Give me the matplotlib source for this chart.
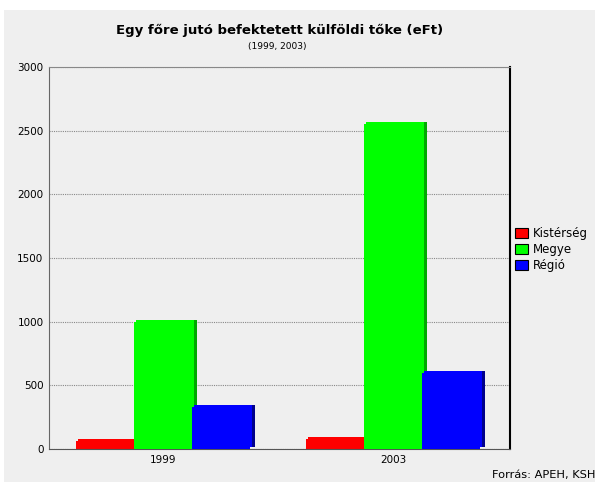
import matplotlib.pyplot as plt
import matplotlib.transforms as mtransforms
from matplotlib.patches import Patch, Rectangle
import numpy as np

# adatok
years = ['1999', '2003']
series = ['Kistérség', 'Megye', 'Régió']
kisterseg = [60, 80]
megye = [1000, 2550]
regio = [330, 600]

colors = ['#ff0000', '#00ff00', '#0000ff']
side_colors = ['#b00000', '#00a800', '#00008c']

fig = plt.figure(figsize=(5.99, 4.86), dpi=100)
fig.patch.set_facecolor('white')
# szürke háttér panel
fig.patches.append(Rectangle((4 / 599, 4 / 486), 591 / 599, 472 / 486,
                             transform=fig.transFigure, facecolor='#efefef',
                             edgecolor='none', zorder=-10))

ax = fig.add_axes([49 / 599, 37 / 486, 461 / 599, 382 / 486])
ax.set_facecolor('#efefef')

x = np.arange(len(years))
w = 0.253
side = mtransforms.offset_copy(ax.transData, fig=fig, x=5, y=2, units='dots')
top = mtransforms.offset_copy(ax.transData, fig=fig, x=2, y=2, units='dots')
for i, vals in enumerate([kisterseg, megye, regio]):
    pos = x + (i - 1) * w
    z = 2 + i
    # 3D hatás: sötét oldal + felső perem
    ax.bar(pos, vals, width=w, color=side_colors[i], transform=side, zorder=z)
    ax.bar(pos, vals, width=w, color=colors[i], transform=top, zorder=z)
    ax.bar(pos, vals, width=w, color=colors[i], zorder=z)

ax.set_ylim(0, 3000)
ax.set_xlim(-0.498, 1.51)
ax.set_yticks(range(0, 3001, 500))
ax.set_xticks(x)
ax.set_xticklabels(years)
ax.tick_params(length=0, labelsize=7.5, pad=4)
ax.yaxis.grid(True, linestyle=(0, (1, 1)), color='#888888', linewidth=0.8)
ax.set_axisbelow(True)

ax.spines['left'].set_color('#666666')
ax.spines['top'].set_color('#888888')
ax.spines['top'].set_linestyle((0, (1, 1)))
ax.spines['bottom'].set_color('#555555')
ax.spines['bottom'].set_linestyle((0, (1, 1)))
ax.spines['right'].set_color('black')
ax.spines['right'].set_linewidth(1.5)

fig.text(280 / 599, 1 - 30 / 486, 'Egy főre jutó befektetett külföldi tőke (eFt)',
         ha='center', va='center', fontsize=9.5, fontweight='bold')
fig.text(277 / 599, 1 - 46 / 486, '(1999, 2003)', ha='center', va='center', fontsize=6.5)

handles = [Patch(facecolor=c, edgecolor='black', linewidth=0.8) for c in colors]
fig.legend(handles, series, loc='upper left', bbox_to_anchor=(515 / 599, 1 - 227 / 486),
           frameon=False, fontsize=8.5, handlelength=1.1, handleheight=0.9,
           handletextpad=0.4, labelspacing=0.25, borderaxespad=0, borderpad=0)

fig.text(596 / 599, 1 - 475 / 486, 'Forrás: APEH, KSH', ha='right', va='center', fontsize=8.2)

plt.savefig('out.png', dpi=100)
